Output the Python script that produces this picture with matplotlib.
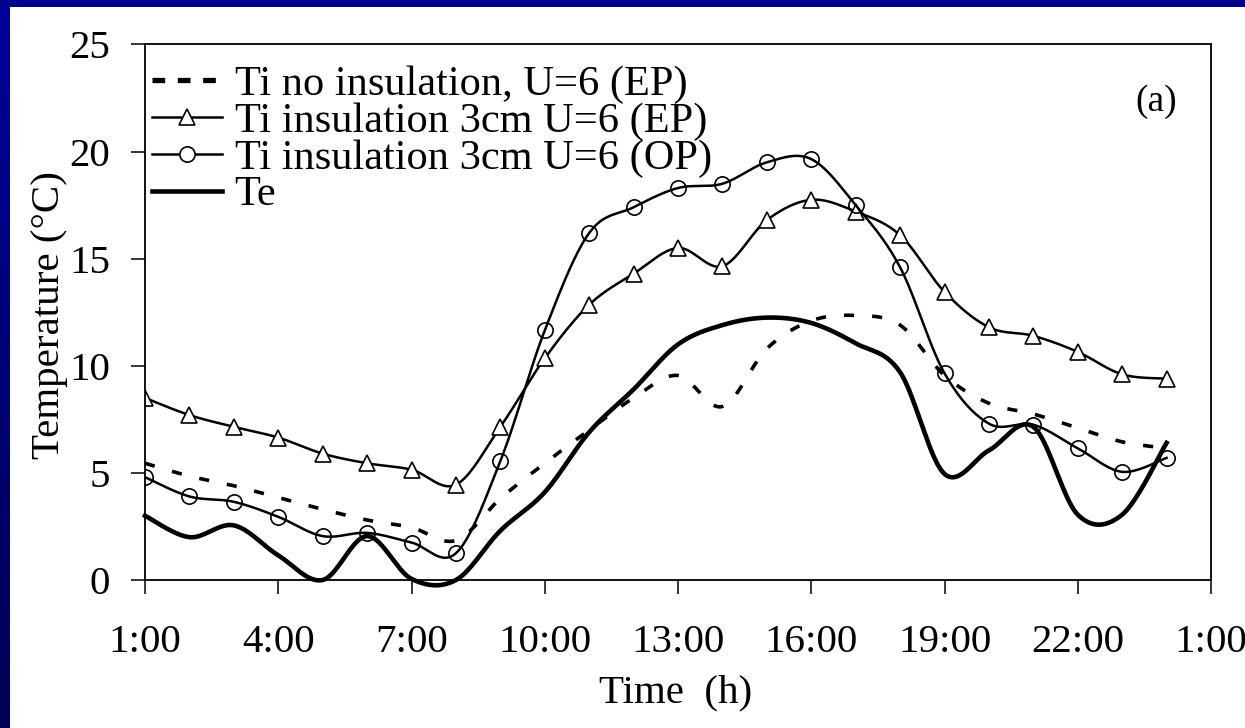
import numpy as np
import matplotlib as mpl; mpl.use('Agg')
import matplotlib.pyplot as plt
from matplotlib.lines import Line2D
from matplotlib.patches import Rectangle
mpl.rcParams.update({'font.family': 'serif', 'font.serif': ['Liberation Serif', 'DejaVu Serif'],
                     'font.size': 29.5, 'axes.linewidth': 1.3})

# hourly values, 1:00 .. 24:00
hours = np.arange(1, 25)
ti_noins = [5.45, 4.85, 4.4, 3.85, 3.3, 2.8, 2.45, 1.85, 3.8, 5.45, 7.0, 8.5,
            9.55, 8.1, 10.8, 12.1, 12.35, 11.9, 9.55, 8.25, 7.75, 7.1, 6.45, 6.15]
ti_ep = [8.5, 7.7, 7.15, 6.65, 5.9, 5.45, 5.15, 4.45, 7.15, 10.35, 12.85, 14.3,
         15.5, 14.65, 16.8, 17.75, 17.2, 16.1, 13.45, 11.8, 11.4, 10.65, 9.6, 9.4]
ti_op = [4.8, 3.9, 3.65, 2.95, 2.05, 2.2, 1.75, 1.25, 5.55, 11.65, 16.2, 17.4,
         18.3, 18.5, 19.5, 19.65, 17.5, 14.6, 9.65, 7.3, 7.25, 6.15, 5.05, 5.7]
te = [3.0, 2.0, 2.55, 1.15, 0.0, 2.05, 0.05, 0.0, 2.3, 4.1, 6.9, 8.9,
      11.0, 11.9, 12.25, 12.0, 11.05, 9.7, 4.95, 6.05, 7.15, 3.05, 3.05, 6.4]
labels = ['Ti no insulation, U=6 (EP)', 'Ti insulation 3cm U=6 (EP)',
          'Ti insulation 3cm U=6 (OP)', 'Te']
xticks = [1, 4, 7, 10, 13, 16, 19, 22, 25]
xticklabels = ['1:00', '4:00', '7:00', '10:00', '13:00', '16:00', '19:00', '22:00', '1:00']


def smooth(x, y, n=20):
    # spreadsheet-style smoothed line (Catmull-Rom / Bezier through the points)
    p = np.column_stack([x, y]).astype(float)
    p = np.vstack([p[0], p, p[-1]])
    t = np.linspace(0, 1, n, endpoint=False)[:, None]
    seg = []
    for i in range(1, len(p) - 2):
        p0, p1, p2, p3 = p[i - 1], p[i], p[i + 1], p[i + 2]
        c1 = p1 + (p2 - p0) / 6.0; c2 = p2 - (p3 - p1) / 6.0
        seg.append((1 - t) ** 3 * p1 + 3 * (1 - t) ** 2 * t * c1 + 3 * (1 - t) * t ** 2 * c2 + t ** 3 * p2)
    seg.append(p[-2][None, :])
    s = np.vstack(seg)
    return s[:, 0], s[:, 1]


W, H = 1245, 728
fig = plt.figure(figsize=(W / 100, H / 100), dpi=100, facecolor='white')

# blue slide border (top strip + left gradient strip)
band = fig.add_axes([0, 0, 10 / W, 1]); band.axis('off')
grad = np.linspace(0.6, 0.33, 256)[:, None]
band.imshow(np.dstack([grad * 0, grad * 0, grad]), aspect='auto', extent=(0, 1, 0, 1))
fig.add_artist(Rectangle((0, 1 - 7 / H), 1, 7 / H, transform=fig.transFigure, color='#00008c', lw=0))

ax = fig.add_axes([145 / W, 1 - 580 / H, 1066 / W, 535.5 / H])
ax.set_xlim(1, 25); ax.set_ylim(0, 25)

x, y = smooth(hours, ti_noins)
ax.plot(x, y, color='k', lw=2.6, ls=(0, (2.8, 5.0)))
x, y = smooth(hours, ti_ep)
ax.plot(x, y, color='k', lw=1.8)
ax.plot(hours, ti_ep, ls='none', marker='^', ms=12, mfc='white', mec='k', mew=1.2)
x, y = smooth(hours, ti_op)
ax.plot(x, y, color='k', lw=1.8)
ax.plot(hours, ti_op, ls='none', marker='o', ms=11, mfc='none', mec='k', mew=1.2)
x, y = smooth(hours, te)
ax.plot(x, y, color='k', lw=3.3, clip_on=False, zorder=3)

ax.set_xticks(xticks); ax.set_xticklabels(xticklabels)
ax.set_yticks(range(0, 26, 5))
ax.tick_params(axis='x', direction='out', length=10, width=1.1, pad=22)
ax.tick_params(axis='y', direction='out', length=10, width=1.1, pad=15)

handles = [Line2D([], [], color='k', lw=3.8, ls=(0, (2.4, 2.4))),
           Line2D([], [], color='k', lw=1.8, marker='^', ms=12, mfc='white', mew=1.2),
           Line2D([], [], color='k', lw=1.8, marker='o', ms=11, mfc='white', mew=1.2),
           Line2D([], [], color='k', lw=3.3)]
ax.legend(handles, labels, loc='upper left', bbox_to_anchor=(0.0066, 0.962), frameon=False,
          borderpad=0, borderaxespad=0, handlelength=1.65, handletextpad=0.3,
          labelspacing=-0.04, fontsize=30.5)

ax.text(1156 / W, 1 - 102 / H, '(a)', transform=fig.transFigure, ha='center', va='center', fontsize=27)
fig.text(50 / W, 1 - 315 / H, 'Temperature (°C)', rotation=90, ha='center', va='center', fontsize=29.5)
fig.text(676 / W, 1 - 693 / H, 'Time  (h)', ha='center', va='center', fontsize=29.5)

fig.savefig('out.png', dpi=100, facecolor='white')
